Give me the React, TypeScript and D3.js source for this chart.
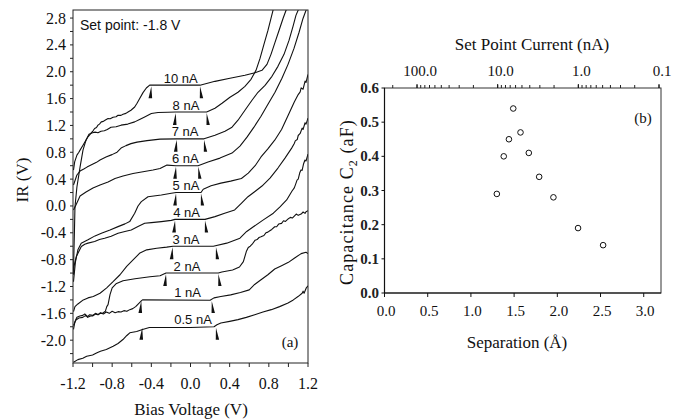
import React from 'react';
import * as d3 from 'd3';

type P = [number, number];

// ---------- Panel (a) data ----------
const biasTicks = [-1.2, -0.8, -0.4, 0.0, 0.4, 0.8, 1.2];
const irTicks = [-2.0, -1.6, -1.2, -0.8, -0.4, 0.0, 0.4, 0.8, 1.2, 1.6, 2.0, 2.4, 2.8];
const curveNames = ['10 nA', '8 nA', '7 nA', '6 nA', '5 nA', '4 nA', '3 nA', '2 nA', '1 nA', '0.5 nA'];
const plateauLevels = [1.8, 1.4, 1.0, 0.6, 0.2, -0.2, -0.6, -1.0, -1.4, -1.8];
const arrowLeftBias = [-0.40, -0.151, -0.141, -0.148, -0.148, -0.158, -0.183, -0.25, -0.503, -0.493];
const arrowRightBias = [0.097, 0.165, 0.138, 0.08, 0.107, 0.148, 0.26, 0.285, 0.217, 0.26];
const labelBias = [-0.10, -0.046, -0.056, -0.053, -0.046, -0.04, -0.046, -0.036, -0.03, 0.026];

const curve10: P[] = [[-1.195,0.535],[-1.183,0.658],[-1.16,0.758],[-1.14,0.80],[-1.128,0.832],[-1.098,0.906],[-1.067,0.981],[-1.047,1.03],[-1.03,1.06],[-1.016,1.085],[-0.995,1.12],[-0.979,1.155],[-0.96,1.17],[-0.945,1.204],[-0.93,1.22],[-0.911,1.253],[-0.89,1.26],[-0.873,1.278],[-0.842,1.303],[-0.82,1.30],[-0.791,1.322],[-0.76,1.33],[-0.74,1.352],[-0.71,1.35],[-0.689,1.367],[-0.66,1.38],[-0.638,1.401],[-0.608,1.426],[-0.57,1.475],[-0.546,1.53],[-0.519,1.60],[-0.485,1.689],[-0.451,1.758],[-0.417,1.80],[0.097,1.80],[0.25,1.857],[0.403,1.902],[0.556,1.947],[0.659,1.984],[0.73,2.021],[0.781,2.11],[0.822,2.259],[0.863,2.437],[0.904,2.615],[0.945,2.794],[0.975,2.912],[0.99,2.96]];
const curve8: P[] = [[-1.195,-0.981],[-1.19,-0.654],[-1.185,-0.357],[-1.18,-0.015],[-1.16,0.282],[-1.128,0.579],[-1.098,0.832],[-1.067,0.981],[-1.037,1.07],[-1.0,1.09],[-0.975,1.10],[-0.945,1.09],[-0.914,1.114],[-0.88,1.12],[-0.85,1.14],[-0.812,1.174],[-0.76,1.18],[-0.709,1.204],[-0.64,1.22],[-0.57,1.253],[-0.52,1.29],[-0.468,1.327],[-0.40,1.377],[-0.332,1.392],[-0.23,1.397],[-0.151,1.40],[0.165,1.40],[0.25,1.456],[0.322,1.53],[0.403,1.62],[0.485,1.694],[0.556,1.783],[0.618,1.887],[0.669,2.021],[0.71,2.199],[0.75,2.407],[0.791,2.615],[0.822,2.794],[0.842,2.912],[0.85,2.96]];
const curve7: P[] = [[-1.195,0.312],[-1.16,0.461],[-1.128,0.52],[-1.09,0.55],[-1.057,0.579],[-0.996,0.624],[-0.96,0.65],[-0.924,0.684],[-0.863,0.728],[-0.802,0.765],[-0.75,0.802],[-0.709,0.862],[-0.659,0.899],[-0.608,0.929],[-0.546,0.951],[-0.444,0.973],[-0.311,0.996],[-0.141,1.0],[0.138,1.0],[0.25,1.055],[0.352,1.114],[0.424,1.174],[0.485,1.278],[0.556,1.426],[0.628,1.575],[0.689,1.694],[0.761,1.798],[0.832,1.932],[0.893,2.08],[0.955,2.259],[1.006,2.467],[1.047,2.675],[1.077,2.84],[1.098,2.912],[1.11,2.96]];
const curve6: P[] = [[-1.195,-0.06],[-1.17,0.015],[-1.128,0.149],[-1.067,0.208],[-0.996,0.267],[-0.924,0.312],[-0.842,0.357],[-0.771,0.41],[-0.689,0.446],[-0.587,0.483],[-0.485,0.51],[-0.383,0.535],[-0.311,0.557],[-0.281,0.58],[-0.24,0.609],[-0.148,0.60],[0.077,0.60],[0.179,0.654],[0.301,0.713],[0.424,0.788],[0.505,0.892],[0.577,1.025],[0.648,1.174],[0.72,1.337],[0.791,1.516],[0.863,1.694],[0.934,1.902],[0.996,2.11],[1.057,2.348],[1.108,2.585],[1.149,2.794],[1.179,2.912],[1.19,2.96]];
const curve5: P[] = [[-1.195,-1.13],[-1.175,-0.832],[-1.15,-0.654],[-1.116,-0.554],[-1.047,-0.505],[-0.975,-0.446],[-0.91,-0.406],[-0.822,-0.357],[-0.74,-0.308],[-0.669,-0.267],[-0.621,-0.233],[-0.57,-0.108],[-0.536,0.0],[-0.502,0.064],[-0.434,0.138],[-0.298,0.163],[-0.196,0.189],[-0.148,0.20],[0.107,0.20],[0.13,0.25],[0.21,0.30],[0.31,0.34],[0.41,0.37],[0.52,0.41],[0.59,0.49],[0.66,0.60],[0.72,0.73],[0.79,0.85],[0.86,0.98],[0.93,1.14],[1.0,1.36],[1.06,1.55],[1.10,1.66],[1.12,1.70],[1.13,1.76],[1.15,1.74],[1.17,1.86],[1.18,1.84],[1.2,1.96]];
const curve4: P[] = [[-1.195,-1.025],[-1.19,-0.90],[-1.166,-0.753],[-1.115,-0.605],[-1.08,-0.57],[-1.047,-0.554],[-0.979,-0.53],[-0.93,-0.50],[-0.877,-0.48],[-0.81,-0.45],[-0.74,-0.406],[-0.67,-0.38],[-0.605,-0.357],[-0.536,-0.307],[-0.468,-0.257],[-0.40,-0.248],[-0.298,-0.233],[-0.196,-0.215],[-0.158,-0.20],[0.148,-0.20],[0.25,-0.159],[0.349,-0.108],[0.451,-0.059],[0.519,0.04],[0.587,0.138],[0.655,0.212],[0.73,0.297],[0.812,0.416],[0.893,0.565],[0.965,0.713],[1.033,0.862],[1.06,0.93],[1.07,0.97],[1.09,0.99],[1.10,1.05],[1.12,1.08],[1.14,1.16],[1.15,1.14],[1.17,1.24],[1.18,1.22],[1.2,1.31]];
const curve3: P[] = [[-1.195,-1.575],[-1.18,-1.50],[-1.15,-1.46],[-1.095,-1.40],[-1.047,-1.37],[-0.993,-1.35],[-0.924,-1.30],[-0.856,-1.22],[-0.788,-1.125],[-0.72,-1.025],[-0.652,-0.90],[-0.584,-0.80],[-0.516,-0.70],[-0.447,-0.654],[-0.345,-0.63],[-0.243,-0.614],[-0.179,-0.60],[0.233,-0.60],[0.37,-0.554],[0.505,-0.48],[0.574,-0.38],[0.642,-0.31],[0.744,-0.208],[0.846,-0.108],[0.914,-0.015],[0.982,0.089],[1.037,0.223],[1.06,0.27],[1.075,0.33],[1.088,0.386],[1.10,0.40],[1.115,0.49],[1.128,0.535],[1.14,0.53],[1.155,0.63],[1.169,0.684],[1.18,0.67],[1.2,0.773]];
const curve2: P[] = [[-1.195,-1.78],[-1.17,-1.70],[-1.14,-1.67],[-1.10,-1.66],[-1.07,-1.63],[-1.05,-1.66],[-1.02,-1.64],[-1.0,-1.64],[-0.97,-1.61],[-0.95,-1.62],[-0.92,-1.60],[-0.90,-1.60],[-0.87,-1.57],[-0.855,-1.50],[-0.842,-1.47],[-0.822,-1.32],[-0.80,-1.22],[-0.761,-1.16],[-0.689,-1.114],[-0.567,-1.085],[-0.414,-1.055],[-0.311,-1.04],[-0.25,-1.0],[0.285,-1.0],[0.32,-0.985],[0.43,-0.955],[0.50,-0.91],[0.54,-0.83],[0.57,-0.68],[0.59,-0.62],[0.61,-0.60],[0.63,-0.57],[0.66,-0.51],[0.68,-0.50],[0.70,-0.47],[0.72,-0.46],[0.75,-0.44],[0.77,-0.40],[0.79,-0.39],[0.81,-0.37],[0.83,-0.35],[0.86,-0.31],[0.88,-0.31],[0.90,-0.27],[0.93,-0.26],[0.95,-0.22],[0.97,-0.23],[1.00,-0.19],[1.02,-0.17],[1.04,-0.18],[1.06,-0.15],[1.08,-0.12],[1.10,-0.14],[1.13,-0.12],[1.15,-0.09],[1.17,-0.11],[1.18,-0.085],[1.20,-0.07]];
const curve1: P[] = [[-1.195,-1.84],[-1.18,-1.72],[-1.16,-1.66],[-1.13,-1.64],[-1.10,-1.63],[-1.08,-1.61],[-1.05,-1.65],[-1.03,-1.62],[-1.0,-1.63],[-0.97,-1.60],[-0.94,-1.62],[-0.92,-1.59],[-0.89,-1.61],[-0.86,-1.58],[-0.83,-1.60],[-0.80,-1.57],[-0.77,-1.59],[-0.74,-1.575],[-0.71,-1.58],[-0.68,-1.56],[-0.65,-1.57],[-0.62,-1.545],[-0.59,-1.53],[-0.56,-1.50],[-0.53,-1.455],[-0.50,-1.41],[-0.49,-1.40],[0.20,-1.405],[0.24,-1.37],[0.31,-1.35],[0.41,-1.325],[0.51,-1.29],[0.60,-1.25],[0.655,-1.17],[0.72,-1.10],[0.79,-1.025],[0.86,-0.94],[0.93,-0.89],[1.00,-0.84],[1.06,-0.78],[1.13,-0.71],[1.18,-0.69],[1.2,-0.71]];
const curve05: P[] = [[-1.195,-2.33],[-1.15,-2.29],[-1.10,-2.27],[-1.06,-2.24],[-1.00,-2.22],[-0.96,-2.19],[-0.92,-2.165],[-0.86,-2.14],[-0.79,-2.09],[-0.74,-2.05],[-0.69,-1.99],[-0.65,-1.93],[-0.62,-1.89],[-0.55,-1.87],[-0.49,-1.84],[-0.42,-1.81],[0.0,-1.81],[0.24,-1.80],[0.27,-1.77],[0.31,-1.745],[0.40,-1.72],[0.485,-1.694],[0.57,-1.66],[0.656,-1.62],[0.74,-1.58],[0.825,-1.545],[0.91,-1.50],[0.996,-1.446],[1.05,-1.40],[1.098,-1.35],[1.14,-1.30],[1.15,-1.27],[1.16,-1.30],[1.183,-1.22],[1.2,-1.19]];
const curves: P[][] = [curve10, curve8, curve7, curve6, curve5, curve4, curve3, curve2, curve1, curve05];

// ---------- Panel (b) data ----------
const separation = [1.30, 1.38, 1.44, 1.49, 1.574, 1.67, 1.79, 1.955, 2.24, 2.53];
const capacitance = [0.29, 0.40, 0.45, 0.54, 0.47, 0.41, 0.34, 0.28, 0.19, 0.14];
const sepTicks = [0.0, 0.5, 1.0, 1.5, 2.0, 2.5, 3.0];
const capTicks = [0.0, 0.1, 0.2, 0.3, 0.4, 0.5, 0.6];
const currentTicks = [100, 10, 1, 0.1];
const currentTickLabels = ['100.0', '10.0', '1.0', '0.1'];

const SERIF = '"Liberation Serif", "Times New Roman", serif';
const SANS = '"Liberation Sans", Arial, sans-serif';

export default function App() {
  // panel (a) scales
  const xL = d3.scaleLinear().domain([-1.2, 1.2]).range([73, 308]);
  const yL = d3.scaleLinear().domain([-2.34, 2.92]).range([363, 10]);
  const line = d3.line<P>().x(d => xL(d[0])).y(d => yL(d[1]));

  // panel (b) scales
  const xR = d3.scaleLinear().domain([0, 3.2]).range([384.5, 661]);
  const yR = d3.scaleLinear().domain([0, 0.6]).range([293, 88]);
  const topR = d3.scaleLog().domain([253, 0.1]).range([384.5, 659]);

  const yMinor = d3.range(-2.2, 2.81, 0.2);
  const xMinor = d3.range(-1.2, 1.201, 0.2);
  const topMinor = topR.ticks().filter(t => topR(t) >= 384 && topR(t) <= 661);

  return (
    <svg width={683} height={420} style={{ position: 'fixed', left: 0, top: 0, background: '#fff' }}>
      <rect x={0} y={0} width={683} height={420} fill="#fff" />
      <defs>
        <clipPath id="clipA">
          <rect x={xL(-1.2)} y={yL(2.92)} width={xL(1.2) - xL(-1.2)} height={yL(-2.34) - yL(2.92)} />
        </clipPath>
      </defs>

      {/* ===== Panel (a) ===== */}
      <g clipPath="url(#clipA)">
        {curves.map((c, i) => (
          <path key={i} d={line(c) || ''} fill="none" stroke="#111" strokeWidth={1.1} strokeLinejoin="round" />
        ))}
      </g>
      {plateauLevels.map((lv, i) => {
        const y = yL(lv);
        const xl = xL(arrowLeftBias[i]);
        const xr = xL(arrowRightBias[i]);
        return (
          <g key={'ar' + i} fill="#111">
            <polygon points={`${xl},${y + 1} ${xl - 2.8},${y + 13} ${xl + 0.8},${y + 13}`} />
            <polygon points={`${xr},${y + 1} ${xr - 0.2},${y + 13} ${xr + 3.2},${y + 13}`} />
            <text x={xL(labelBias[i])} y={y - 2.5} textAnchor="middle" fontFamily={SANS} fontSize={13} fill="#111">
              {curveNames[i]}
            </text>
          </g>
        );
      })}
      <text x={80} y={30} fontFamily={SANS} fontSize={14} fill="#111">Set point: -1.8 V</text>
      <text x={290} y={347} textAnchor="middle" fontFamily={SERIF} fontSize={15} fill="#111">(a)</text>

      {/* frame */}
      <rect x={xL(-1.2)} y={yL(2.92)} width={xL(1.2) - xL(-1.2)} height={yL(-2.34) - yL(2.92)} fill="none" stroke="#222" strokeWidth={1} />
      {yMinor.map((v, i) => (
        <line key={'ym' + i} x1={xL(-1.2) - 3} x2={xL(-1.2)} y1={yL(v)} y2={yL(v)} stroke="#222" strokeWidth={1} />
      ))}
      {xMinor.map((v, i) => (
        <line key={'xm' + i} x1={xL(v)} x2={xL(v)} y1={yL(-2.34)} y2={yL(-2.34) + 4} stroke="#222" strokeWidth={1} />
      ))}
      {irTicks.map((v, i) => (
        <text key={'yl' + i} x={66} y={yL(v) + 5.5} textAnchor="end" fontFamily={SERIF} fontSize={16} fill="#111">
          {v.toFixed(1)}
        </text>
      ))}
      {biasTicks.map((v, i) => (
        <text key={'xl' + i} x={xL(v)} y={389} textAnchor="middle" fontFamily={SERIF} fontSize={16} fill="#111">
          {v.toFixed(1)}
        </text>
      ))}
      <text x={191} y={415} textAnchor="middle" fontFamily={SERIF} fontSize={17} fill="#111">Bias Voltage (V)</text>
      <text transform="translate(28,180) rotate(-90)" textAnchor="middle" fontFamily={SERIF} fontSize={17} fill="#111">IR (V)</text>

      {/* ===== Panel (b) ===== */}
      <rect x={xR(0)} y={yR(0.6)} width={xR(3.2) - xR(0)} height={yR(0) - yR(0.6)} fill="none" stroke="#333" strokeWidth={1} />
      <line x1={xR(0)} x2={xR(0)} y1={yR(0.6)} y2={yR(0)} stroke="#111" strokeWidth={1.2} />
      <line x1={xR(0)} x2={xR(3.2)} y1={yR(0)} y2={yR(0)} stroke="#111" strokeWidth={1.2} />
      {capTicks.map((v, i) => (
        <g key={'cy' + i}>
          <line x1={xR(0) - 3} x2={xR(0)} y1={yR(v)} y2={yR(v)} stroke="#111" />
          <text x={379} y={yR(v) + 5} textAnchor="end" fontFamily={SERIF} fontSize={15} fontWeight="bold" fill="#222">
            {v.toFixed(1)}
          </text>
        </g>
      ))}
      {sepTicks.map((v, i) => (
        <g key={'sx' + i}>
          <line x1={xR(v)} x2={xR(v)} y1={yR(0)} y2={yR(0) + 4} stroke="#111" />
          <text x={xR(v) + 1.5} y={316} textAnchor="middle" fontFamily={SERIF} fontSize={15} fill="#111">
            {v.toFixed(1)}
          </text>
        </g>
      ))}
      {topMinor.map((t, i) => (
        <line key={'tm' + i} x1={topR(t)} x2={topR(t)} y1={yR(0.6)} y2={yR(0.6) - 3} stroke="#222" />
      ))}
      {currentTicks.map((t, i) => (
        <g key={'tc' + i}>
          <line x1={topR(t)} x2={topR(t)} y1={yR(0.6)} y2={yR(0.6) - 4} stroke="#111" />
          <text x={topR(t) + 3} y={76} textAnchor="middle" fontFamily={SERIF} fontSize={15} fill="#111">
            {currentTickLabels[i]}
          </text>
        </g>
      ))}
      <text x={532} y={50} textAnchor="middle" fontFamily={SERIF} fontSize={17} fill="#111">Set Point Current (nA)</text>
      <text x={517} y={348} textAnchor="middle" fontFamily={SERIF} fontSize={17} fill="#111">Separation (Å)</text>
      <text transform="translate(353,202) rotate(-90)" textAnchor="middle" fontFamily={SERIF} fontSize={18} letterSpacing={1.1} fill="#111">
        Capacitance C<tspan fontSize={12} dy={4}>2</tspan><tspan dy={-4}> (aF)</tspan>
      </text>
      <text x={643} y={123} textAnchor="middle" fontFamily={SERIF} fontSize={15} fill="#111">(b)</text>
      {separation.map((s, i) => (
        <circle key={'pt' + i} cx={xR(s)} cy={yR(capacitance[i])} r={2.8} fill="#fff" stroke="#111" strokeWidth={1} />
      ))}
    </svg>
  );
}
